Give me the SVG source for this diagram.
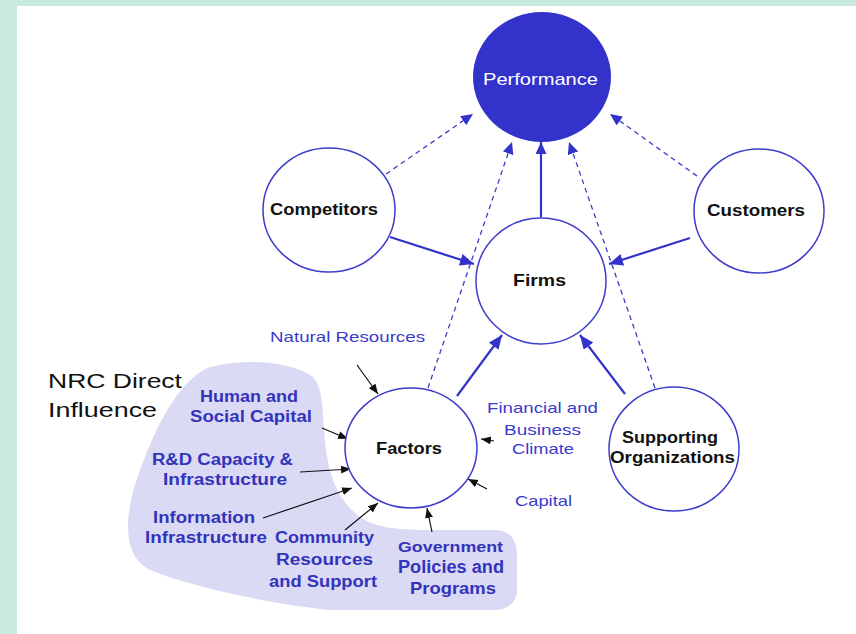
<svg xmlns="http://www.w3.org/2000/svg" width="856" height="634" viewBox="0 0 856 634">
<defs>
<style>
.node{fill:#fff;stroke:#3d3dcc;stroke-width:1.5}
.lbl{font-family:"Liberation Sans",Arial,sans-serif;font-weight:bold;font-size:17px;fill:#111;text-anchor:middle}
.blue{font-family:"Liberation Sans",Arial,sans-serif;font-size:15px;fill:#3a3acc;text-anchor:middle}
.bb{font-family:"Liberation Sans",Arial,sans-serif;font-weight:bold;font-size:16px;fill:#3333bb;text-anchor:middle}
.solid{stroke:#3333cc;stroke-width:2.2;fill:none}
.dash{stroke:#3d3dcc;stroke-width:1.3;stroke-dasharray:5 4;fill:none}
.blk{stroke:#111;stroke-width:1.2;fill:none}
</style>
<marker id="ab" markerUnits="userSpaceOnUse" markerWidth="16" markerHeight="14" refX="14" refY="6" orient="auto"><path d="M0,0 L14,6 L0,12 z" fill="#3333cc"/></marker>
<marker id="ad" markerUnits="userSpaceOnUse" markerWidth="14" markerHeight="12" refX="12" refY="5.5" orient="auto"><path d="M0,0 L12,5.5 L0,11 z" fill="#3333cc"/></marker>
<marker id="ak" markerUnits="userSpaceOnUse" markerWidth="12" markerHeight="10" refX="10" refY="4" orient="auto"><path d="M0,0 L10,4 L0,8 z" fill="#111"/></marker>
</defs>
<rect x="0" y="0" width="856" height="634" fill="#cbeadf"/>
<rect x="17" y="6" width="839" height="628" fill="#fff"/>
<path id="nrc-region" d="M207,368 C240,358 290,360 313,377 C325,390 322,420 326,450 C330,480 340,505 365,520 C380,528 400,530 430,530 L495,530 C510,530 517,540 517,555 L517,590 C517,603 507,610 495,610 L330,610 C280,605 200,590 150,570 C120,555 125,510 140,470 C155,430 175,385 207,368 Z" fill="#dadaf4"/>
<g id="connectors">
<line class="dash" x1="386" y1="174" x2="473" y2="114" marker-end="url(#ad)"/>
<line class="dash" x1="697" y1="176" x2="610" y2="114" marker-end="url(#ad)"/>
<line class="dash" x1="428" y1="388" x2="512" y2="142" marker-end="url(#ad)"/>
<line class="dash" x1="655" y1="388" x2="569" y2="142" marker-end="url(#ad)"/>
<line class="solid" x1="541" y1="217" x2="541" y2="142" stroke-width="1.8" marker-end="url(#ad)"/>
<line class="solid" x1="390" y1="237" x2="474" y2="264" marker-end="url(#ab)"/>
<line class="solid" x1="690" y1="238" x2="609" y2="264" marker-end="url(#ab)"/>
<line class="solid" x1="457" y1="396" x2="502" y2="335" marker-end="url(#ab)"/>
<line class="solid" x1="625" y1="394" x2="580" y2="335" marker-end="url(#ab)"/>
<line class="blk" x1="357" y1="365" x2="378" y2="394" marker-end="url(#ak)"/>
<line class="blk" x1="322" y1="428" x2="348" y2="439" marker-end="url(#ak)"/>
<line class="blk" x1="300" y1="472" x2="351" y2="469" marker-end="url(#ak)"/>
<line class="blk" x1="263" y1="518" x2="352" y2="488" marker-end="url(#ak)"/>
<line class="blk" x1="345" y1="530" x2="378" y2="503" marker-end="url(#ak)"/>
<line class="blk" x1="432" y1="532" x2="427" y2="508" marker-end="url(#ak)"/>
<line class="blk" x1="487" y1="489" x2="468" y2="479" marker-end="url(#ak)"/>
<line class="blk" x1="494" y1="441" x2="481" y2="439" marker-end="url(#ak)"/>
</g>
<g id="performance">
<ellipse cx="542" cy="77" rx="69" ry="65" fill="#3333cc"/>
<text x="540.5" y="85" class="lbl" style="font-weight:normal;fill:#fff" textLength="115" lengthAdjust="spacingAndGlyphs">Performance</text>
</g>
<g id="competitors">
<ellipse class="node" cx="329" cy="210" rx="66" ry="62"/>
<text x="324" y="215" class="lbl" textLength="108" lengthAdjust="spacingAndGlyphs">Competitors</text>
</g>
<g id="customers">
<ellipse class="node" cx="759" cy="211" rx="65" ry="62"/>
<text x="756" y="216" class="lbl" textLength="98" lengthAdjust="spacingAndGlyphs">Customers</text>
</g>
<g id="firms">
<ellipse class="node" cx="541" cy="281" rx="65" ry="63" stroke-width="4" stroke="#3333cc"/>
<text x="539.5" y="286" class="lbl" textLength="53" lengthAdjust="spacingAndGlyphs">Firms</text>
</g>
<g id="factors">
<ellipse class="node" cx="411" cy="448" rx="66" ry="60"/>
<text x="409" y="454" class="lbl" textLength="66" lengthAdjust="spacingAndGlyphs">Factors</text>
</g>
<g id="supporting">
<ellipse class="node" cx="674" cy="449" rx="65" ry="62"/>
<text x="670" y="443" class="lbl" textLength="96" lengthAdjust="spacingAndGlyphs">Supporting</text>
<text x="672.5" y="463" class="lbl" textLength="125" lengthAdjust="spacingAndGlyphs">Organizations</text>
</g>
<g id="labels">
<text x="48" y="388" style="font-family:'Liberation Sans',Arial,sans-serif;font-size:20px;fill:#111" textLength="134" lengthAdjust="spacingAndGlyphs">NRC Direct</text>
<text x="48" y="417" style="font-family:'Liberation Sans',Arial,sans-serif;font-size:20px;fill:#111" textLength="109" lengthAdjust="spacingAndGlyphs">Influence</text>
<text x="347.5" y="342" class="blue" textLength="155" lengthAdjust="spacingAndGlyphs">Natural Resources</text>
<text x="249" y="402" class="bb" textLength="98" lengthAdjust="spacingAndGlyphs">Human and</text>
<text x="251" y="422" class="bb" textLength="122" lengthAdjust="spacingAndGlyphs">Social Capital</text>
<text x="222.5" y="465" class="bb" textLength="141" lengthAdjust="spacingAndGlyphs">R&amp;D Capacity &amp;</text>
<text x="225" y="485" class="bb" textLength="124" lengthAdjust="spacingAndGlyphs">Infrastructure</text>
<text x="204" y="523" class="bb" textLength="102" lengthAdjust="spacingAndGlyphs">Information</text>
<text x="206" y="543" class="bb" textLength="122" lengthAdjust="spacingAndGlyphs">Infrastructure</text>
<text x="324.5" y="543" class="bb" textLength="99" lengthAdjust="spacingAndGlyphs">Community</text>
<text x="324.5" y="565" class="bb" textLength="97" lengthAdjust="spacingAndGlyphs">Resources</text>
<text x="323" y="587" class="bb" textLength="108" lengthAdjust="spacingAndGlyphs">and Support</text>
<text x="450.5" y="552" class="bb" style="font-size:14px" textLength="105" lengthAdjust="spacingAndGlyphs">Government</text>
<text x="451" y="573" class="bb" style="font-size:18px" textLength="106" lengthAdjust="spacingAndGlyphs">Policies and</text>
<text x="453" y="594" class="bb" style="font-size:17px" textLength="86" lengthAdjust="spacingAndGlyphs">Programs</text>
<text x="542.5" y="413" class="blue" textLength="111" lengthAdjust="spacingAndGlyphs">Financial and</text>
<text x="542.5" y="435" class="blue" textLength="77" lengthAdjust="spacingAndGlyphs">Business</text>
<text x="543" y="454" class="blue" textLength="62" lengthAdjust="spacingAndGlyphs">Climate</text>
<text x="543.5" y="506" class="blue" textLength="57" lengthAdjust="spacingAndGlyphs">Capital</text>
</g>
</svg>
